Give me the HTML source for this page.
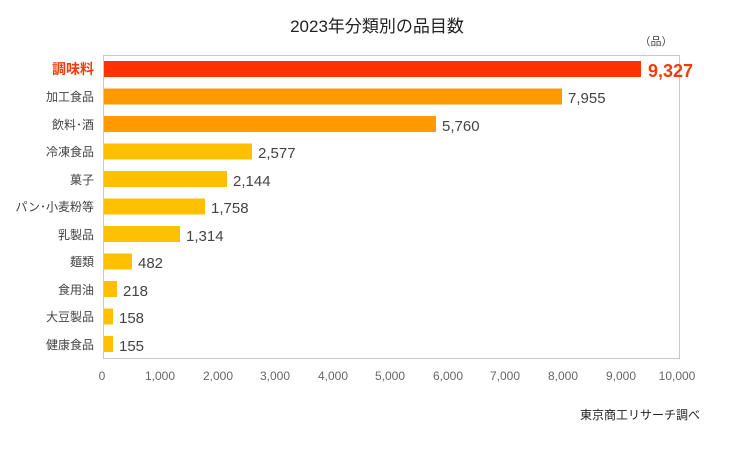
<!DOCTYPE html>
<html><head><meta charset="utf-8"><style>
body{margin:0;background:#fff;width:732px;height:445px;overflow:hidden;font-family:"Liberation Sans","Noto Sans CJK JP",sans-serif;}
svg text{font-family:"Liberation Sans","Noto Sans CJK JP",sans-serif;}
</style></head><body>
<svg width="732" height="445" xmlns="http://www.w3.org/2000/svg">
<text x="377" y="32" font-size="17" text-anchor="middle" fill="#222">2023年分類別の品目数</text>
<text x="656" y="45" font-size="11" text-anchor="middle" fill="#444">（品）</text>
<rect x="103.5" y="55.5" width="576" height="303" fill="none" stroke="#c8c8c8"/>
<g font-size="12" fill="#444" text-anchor="end">
<text x="94" y="74" font-size="14" font-weight="bold" fill="#f03c0a">調味料</text>
<text x="94" y="101">加工食品</text>
<text x="94" y="129">飲料･酒</text>
<text x="94" y="156">冷凍食品</text>
<text x="94" y="184">菓子</text>
<text x="94" y="211">パン･小麦粉等</text>
<text x="94" y="239">乳製品</text>
<text x="94" y="266">麺類</text>
<text x="94" y="294">食用油</text>
<text x="94" y="321">大豆製品</text>
<text x="94" y="349">健康食品</text>
</g>
<rect x="104" y="61" width="537" height="16" fill="#ff3300"/>
<rect x="104" y="88.5" width="458" height="16" fill="#ff9900"/>
<rect x="104" y="116" width="332" height="16" fill="#ff9900"/>
<rect x="104" y="143.5" width="148" height="16" fill="#ffc000"/>
<rect x="104" y="171" width="123" height="16" fill="#ffc000"/>
<rect x="104" y="198.5" width="101" height="16" fill="#ffc000"/>
<rect x="104" y="226" width="76" height="16" fill="#ffc000"/>
<rect x="104" y="253.5" width="28" height="16" fill="#ffc000"/>
<rect x="104" y="281" width="13" height="16" fill="#ffc000"/>
<rect x="104" y="308.5" width="9" height="16" fill="#ffc000"/>
<rect x="104" y="336" width="9" height="16" fill="#ffc000"/>
<g font-size="15" fill="#444">
<text x="648" y="77" font-size="18" font-weight="bold" fill="#f03c0a">9,327</text>
<text x="568" y="103">7,955</text>
<text x="442" y="131">5,760</text>
<text x="258" y="158">2,577</text>
<text x="233" y="186">2,144</text>
<text x="211" y="213">1,758</text>
<text x="186" y="241">1,314</text>
<text x="138" y="268">482</text>
<text x="123" y="296">218</text>
<text x="119" y="323">158</text>
<text x="119" y="351">155</text>
</g>
<g font-size="12" fill="#666" text-anchor="middle">
<text x="102" y="380">0</text><text x="160" y="380">1,000</text><text x="218" y="380">2,000</text>
<text x="275" y="380">3,000</text><text x="333" y="380">4,000</text><text x="390" y="380">5,000</text>
<text x="448" y="380">6,000</text><text x="505" y="380">7,000</text><text x="563" y="380">8,000</text>
<text x="621" y="380">9,000</text><text x="677" y="380">10,000</text>
</g>
<text x="700" y="419" font-size="12" text-anchor="end" fill="#222">東京商工リサーチ調べ</text>
</svg>
</body></html>
